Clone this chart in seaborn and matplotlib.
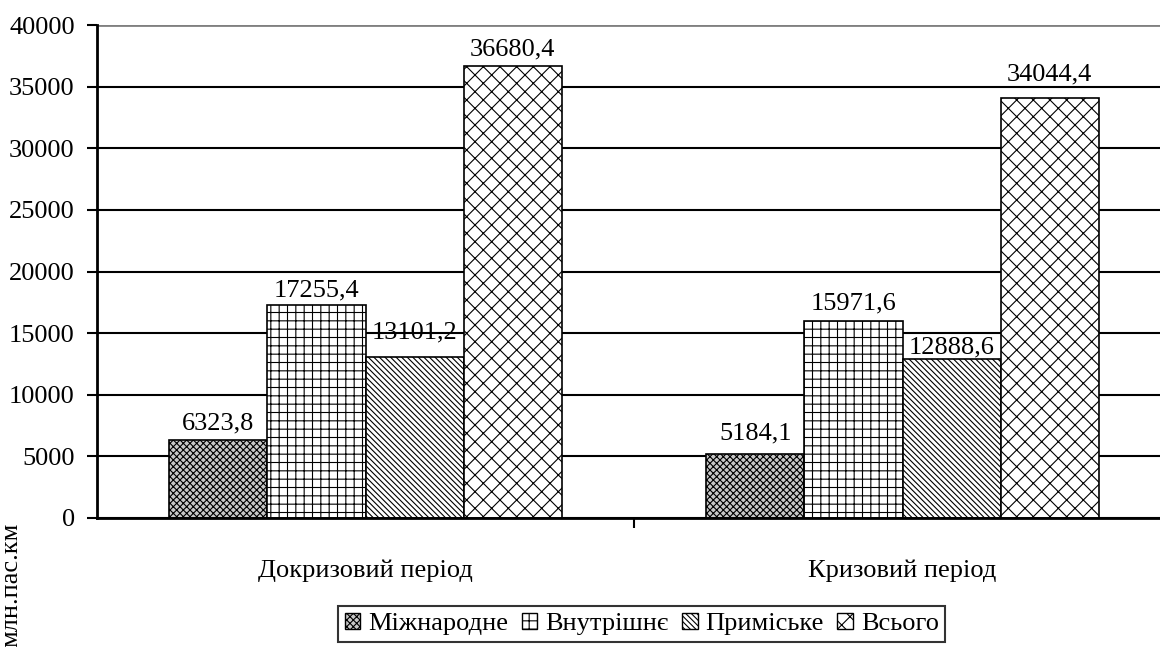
import pandas as pd
import seaborn as sns
import matplotlib.pyplot as plt
from matplotlib.patches import Patch
from matplotlib.ticker import FixedLocator

periods = ['Докризовий період', 'Кризовий період']
types = ['Міжнародне', 'Внутрішнє', 'Приміське', 'Всього']
mizhnarodne = [6323.8, 5184.1]
vnutrishne = [17255.4, 15971.6]
prymiske = [13101.2, 12888.6]
vsogo = [36680.4, 34044.4]
y_ticks = [0, 5000, 10000, 15000, 20000, 25000, 30000, 35000, 40000]

series = [mizhnarodne, vnutrishne, prymiske, vsogo]
df = pd.DataFrame({
    'period': [p for s in series for p in periods],
    'type': [t for t, s in zip(types, series) for _ in s],
    'value': [v for s in series for v in s],
})

sns.set_style('white')
plt.rcParams['font.family'] = 'serif'
plt.rcParams['font.serif'] = ['Liberation Serif']
plt.rcParams['text.color'] = 'black'
plt.rcParams['xtick.color'] = 'black'
plt.rcParams['ytick.color'] = 'black'
plt.rcParams['hatch.linewidth'] = 0.8
fs = 19

faces = ['#c8c8c8', 'white', 'white', 'white']
hatches = ['xxxxx', '++', '\\\\\\\\\\\\', 'xx']
# label offsets (points) as placed in the original
label_pads = [[4, 7], [2.5, 5], [9.5, 0.5], [4, 9]]

fig = plt.figure(figsize=(11.6, 6.47), dpi=100)
ax = fig.add_axes([97 / 1160, 129 / 647, 1074 / 1160, 493 / 647])

sns.barplot(data=df, x='period', y='value', hue='type', hue_order=types,
            order=periods, palette=faces, width=0.73, errorbar=None,
            edgecolor='black', linewidth=1.2, saturation=1, legend=False, ax=ax)

for cont, face, h, vals, pads in zip(ax.containers, faces, hatches, series, label_pads):
    for bar, v, p in zip(cont, vals, pads):
        bar.set_facecolor(face)
        bar.set_hatch(h)
        bar.set_edgecolor('black')
        ax.annotate(f'{v:.1f}'.replace('.', ','),
                    (bar.get_x() + bar.get_width() / 2, bar.get_height()),
                    xytext=(0, p), textcoords='offset points',
                    ha='center', va='bottom', fontsize=fs, color='black')

ax.set_xlim(-0.5, 1.5)
ax.set_ylim(0, 40000)
ax.set_yticks(y_ticks)
ax.set_yticklabels([str(t) for t in y_ticks])
ax.yaxis.grid(True, color='black', linewidth=1.5)
ax.set_axisbelow(True)
ax.yaxis.get_gridlines()[-1].set_color('#808080')
ax.yaxis.get_gridlines()[-1].set_linewidth(2)

ax.xaxis.set_minor_locator(FixedLocator([0.5]))
ax.tick_params(axis='x', which='major', length=0, pad=30, labelsize=fs,
               labelcolor='black')
ax.tick_params(axis='x', which='minor', length=7, width=1.5, color='black',
               direction='out', bottom=True)
ax.tick_params(axis='y', length=7, width=1.5, color='black', direction='out',
               pad=9, labelsize=fs, left=True, labelcolor='black')
ax.set_xlabel('')
ax.set_ylabel('')

for side in ['top', 'right']:
    ax.spines[side].set_visible(False)
for side in ['left', 'bottom']:
    ax.spines[side].set_color('black')
    ax.spines[side].set_linewidth(2)

handles = [Patch(facecolor=f, edgecolor='black', hatch=h, linewidth=1)
           for f, h in zip(faces, hatches)]
leg = fig.legend(handles, types, loc='upper left',
                 bbox_to_anchor=(338 / 1160, 1 - 606 / 647), ncol=4,
                 fontsize=fs, frameon=True, fancybox=False, handlelength=0.6,
                 handleheight=0.6, handletextpad=0.3, columnspacing=0.5,
                 borderpad=0.25, borderaxespad=0)
leg.get_frame().set_edgecolor('black')
leg.get_frame().set_linewidth(1.5)
for t in leg.get_texts():
    t.set_color('black')

fig.text(11 / 1160, 1 - 585 / 647, 'млн.пас.км', rotation=90,
         ha='center', va='center', fontsize=fs, color='black')

fig.savefig('out.png', dpi=100)
